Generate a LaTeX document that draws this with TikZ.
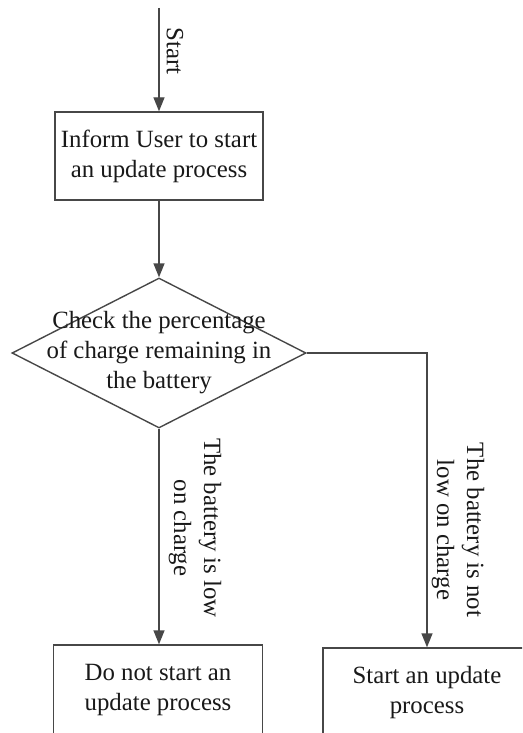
\documentclass[tikz,border=0pt]{standalone}
\usepackage{fontspec}
\setmainfont{Liberation Serif}
\usetikzlibrary{arrows.meta,shapes.geometric}
\begin{document}
\begin{tikzpicture}[x=1pt,y=-1pt, line width=1.4pt,
  every node/.style={font=\fontsize{24.8}{30}\selectfont, text=black!90},
  box/.style={draw=black!72, rectangle, align=center, inner sep=0pt},
  arr/.style={draw=black!72, -{Triangle[length=14pt,width=11pt]}},
  lbl/.style={rotate=-90, align=center, inner sep=0pt}]
\useasboundingbox (0,0) rectangle (522,733);
\clip (0,0) rectangle (522,733);
\fill[white] (0,0) rectangle (522,733);

\node[box, minimum width=208pt, minimum height=88pt] (inform) at (159,156) {Inform User to start\\an update process};
\node[diamond, draw=black!72, minimum width=294pt, minimum height=150pt, inner sep=0pt] (check) at (159,353) {};
\node[align=center, inner sep=0pt] (checktext) at (159,353) {Check the percentage\\of charge remaining in\\the battery};
\node[box, minimum width=209pt, minimum height=90pt] (nostart) at (158,690) {Do not start an\\update process};
\node[box, minimum width=208pt, minimum height=89pt] (start) at (427,692.5) {Start an update\\process};

\coordinate (begin) at (159,8);
\draw[arr] (begin) -- (inform.north);
\draw[arr] (inform.south) -- (check.north);
\draw[arr] (check.south) -- (check.south |- nostart.north);
\draw[arr] (check.east) -| (start.north);

\node[lbl] (startlbl) at (175,51) {Start};
\node[lbl] (lowlbl) at (195,528) {The battery is low\\on charge};
\node[lbl] (notlowlbl) at (458,530) {The battery is not\\low on charge};
\end{tikzpicture}
\end{document}
